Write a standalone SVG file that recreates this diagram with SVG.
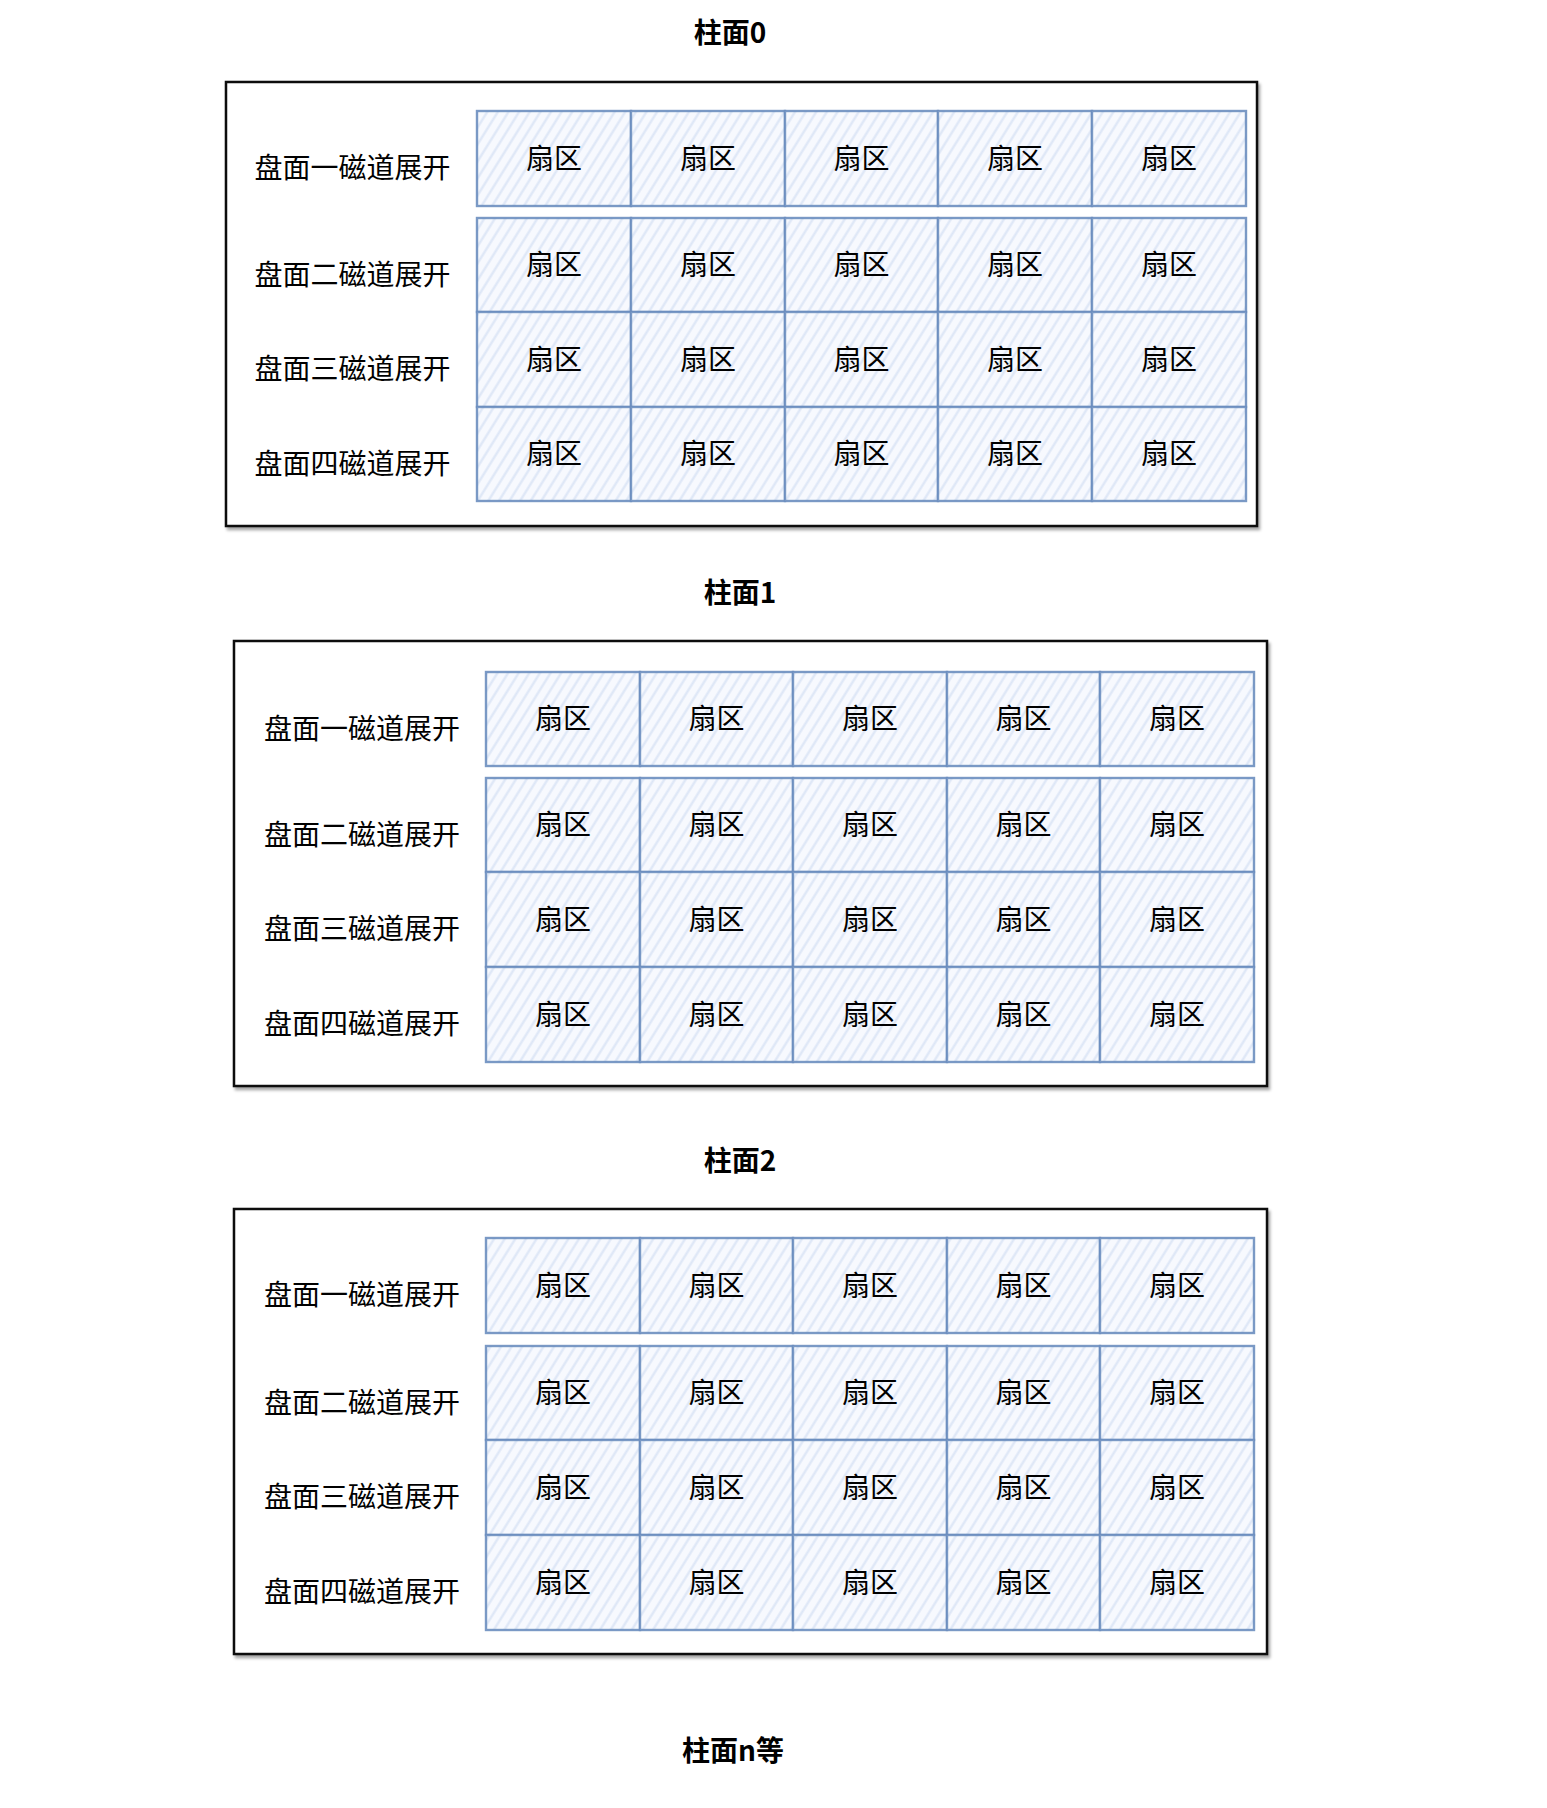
<svg xmlns="http://www.w3.org/2000/svg" width="1547" height="1808" viewBox="0 0 1547 1808">
<style>
.t{font-family:"Noto Sans CJK SC","Noto Sans",sans-serif;font-size:28px;fill:#000;text-anchor:middle;dominant-baseline:central}
.title{font-weight:bold}
.box{fill:#fff;stroke:#111;stroke-width:2.5;filter:url(#sh)}
.cell rect{fill:url(#hatch);stroke:#6c8ebf;stroke-width:2.4;stroke-opacity:0.9}
</style>
<defs>
<pattern id="hatch" patternUnits="userSpaceOnUse" width="9" height="9" patternTransform="rotate(32)">
<rect width="9" height="9" fill="#f7f9fe"/>
<line x1="4.5" y1="0" x2="4.5" y2="9" stroke="#dce6f6" stroke-width="2.2"/>
</pattern>
<filter id="sh" x="-5%" y="-5%" width="110%" height="110%">
<feDropShadow dx="2" dy="3" stdDeviation="1.5" flood-color="#000" flood-opacity="0.35"/>
</filter>
</defs>
<rect width="1547" height="1808" fill="#fff"/>

<g id="title0"><text class="t title" x="730" y="31">柱面0</text></g>
<g id="title1"><text class="t title" x="740" y="591">柱面1</text></g>
<g id="title2"><text class="t title" x="740" y="1159">柱面2</text></g>
<g id="titleN"><text class="t title" x="733" y="1749">柱面n等</text></g>

<g id="panel0"><rect class="box" x="226" y="82" width="1031" height="444"/></g>
<g id="panel1"><rect class="box" x="234" y="641" width="1033" height="445"/></g>
<g id="panel2"><rect class="box" x="234" y="1209" width="1033" height="445"/></g>

<g id="p0-labels">
<g id="p0-l1"><text class="t" x="352.5" y="165.5">盘面一磁道展开</text></g>
<g id="p0-l2"><text class="t" x="352.5" y="272.5">盘面二磁道展开</text></g>
<g id="p0-l3"><text class="t" x="352.5" y="367">盘面三磁道展开</text></g>
<g id="p0-l4"><text class="t" x="352.5" y="461.5">盘面四磁道展开</text></g>
</g>
<g id="p1-labels">
<g id="p1-l1"><text class="t" x="362" y="726.5">盘面一磁道展开</text></g>
<g id="p1-l2"><text class="t" x="362" y="832.5">盘面二磁道展开</text></g>
<g id="p1-l3"><text class="t" x="362" y="927">盘面三磁道展开</text></g>
<g id="p1-l4"><text class="t" x="362" y="1022">盘面四磁道展开</text></g>
</g>
<g id="p2-labels">
<g id="p2-l1"><text class="t" x="362" y="1293">盘面一磁道展开</text></g>
<g id="p2-l2"><text class="t" x="362" y="1400.5">盘面二磁道展开</text></g>
<g id="p2-l3"><text class="t" x="362" y="1495">盘面三磁道展开</text></g>
<g id="p2-l4"><text class="t" x="362" y="1590">盘面四磁道展开</text></g>
</g>

<g id="p0-cells">
<g id="p0-r1-c1" class="cell"><rect x="477" y="111" width="154" height="95"/><text class="t" x="554" y="156.5">扇区</text></g>
<g id="p0-r1-c2" class="cell"><rect x="631" y="111" width="154" height="95"/><text class="t" x="708" y="156.5">扇区</text></g>
<g id="p0-r1-c3" class="cell"><rect x="785" y="111" width="153" height="95"/><text class="t" x="861.5" y="156.5">扇区</text></g>
<g id="p0-r1-c4" class="cell"><rect x="938" y="111" width="154" height="95"/><text class="t" x="1015" y="156.5">扇区</text></g>
<g id="p0-r1-c5" class="cell"><rect x="1092" y="111" width="154" height="95"/><text class="t" x="1169" y="156.5">扇区</text></g>
<g id="p0-r2-c1" class="cell"><rect x="477" y="218" width="154" height="94"/><text class="t" x="554" y="263">扇区</text></g>
<g id="p0-r2-c2" class="cell"><rect x="631" y="218" width="154" height="94"/><text class="t" x="708" y="263">扇区</text></g>
<g id="p0-r2-c3" class="cell"><rect x="785" y="218" width="153" height="94"/><text class="t" x="861.5" y="263">扇区</text></g>
<g id="p0-r2-c4" class="cell"><rect x="938" y="218" width="154" height="94"/><text class="t" x="1015" y="263">扇区</text></g>
<g id="p0-r2-c5" class="cell"><rect x="1092" y="218" width="154" height="94"/><text class="t" x="1169" y="263">扇区</text></g>
<g id="p0-r3-c1" class="cell"><rect x="477" y="312" width="154" height="95"/><text class="t" x="554" y="357.5">扇区</text></g>
<g id="p0-r3-c2" class="cell"><rect x="631" y="312" width="154" height="95"/><text class="t" x="708" y="357.5">扇区</text></g>
<g id="p0-r3-c3" class="cell"><rect x="785" y="312" width="153" height="95"/><text class="t" x="861.5" y="357.5">扇区</text></g>
<g id="p0-r3-c4" class="cell"><rect x="938" y="312" width="154" height="95"/><text class="t" x="1015" y="357.5">扇区</text></g>
<g id="p0-r3-c5" class="cell"><rect x="1092" y="312" width="154" height="95"/><text class="t" x="1169" y="357.5">扇区</text></g>
<g id="p0-r4-c1" class="cell"><rect x="477" y="407" width="154" height="94"/><text class="t" x="554" y="452">扇区</text></g>
<g id="p0-r4-c2" class="cell"><rect x="631" y="407" width="154" height="94"/><text class="t" x="708" y="452">扇区</text></g>
<g id="p0-r4-c3" class="cell"><rect x="785" y="407" width="153" height="94"/><text class="t" x="861.5" y="452">扇区</text></g>
<g id="p0-r4-c4" class="cell"><rect x="938" y="407" width="154" height="94"/><text class="t" x="1015" y="452">扇区</text></g>
<g id="p0-r4-c5" class="cell"><rect x="1092" y="407" width="154" height="94"/><text class="t" x="1169" y="452">扇区</text></g>
</g>

<g id="p1-cells">
<g id="p1-r1-c1" class="cell"><rect x="486" y="672" width="154" height="94"/><text class="t" x="563" y="717">扇区</text></g>
<g id="p1-r1-c2" class="cell"><rect x="640" y="672" width="153" height="94"/><text class="t" x="716.5" y="717">扇区</text></g>
<g id="p1-r1-c3" class="cell"><rect x="793" y="672" width="154" height="94"/><text class="t" x="870" y="717">扇区</text></g>
<g id="p1-r1-c4" class="cell"><rect x="947" y="672" width="153" height="94"/><text class="t" x="1023.5" y="717">扇区</text></g>
<g id="p1-r1-c5" class="cell"><rect x="1100" y="672" width="154" height="94"/><text class="t" x="1177" y="717">扇区</text></g>
<g id="p1-r2-c1" class="cell"><rect x="486" y="778" width="154" height="94"/><text class="t" x="563" y="823">扇区</text></g>
<g id="p1-r2-c2" class="cell"><rect x="640" y="778" width="153" height="94"/><text class="t" x="716.5" y="823">扇区</text></g>
<g id="p1-r2-c3" class="cell"><rect x="793" y="778" width="154" height="94"/><text class="t" x="870" y="823">扇区</text></g>
<g id="p1-r2-c4" class="cell"><rect x="947" y="778" width="153" height="94"/><text class="t" x="1023.5" y="823">扇区</text></g>
<g id="p1-r2-c5" class="cell"><rect x="1100" y="778" width="154" height="94"/><text class="t" x="1177" y="823">扇区</text></g>
<g id="p1-r3-c1" class="cell"><rect x="486" y="872" width="154" height="95"/><text class="t" x="563" y="917.5">扇区</text></g>
<g id="p1-r3-c2" class="cell"><rect x="640" y="872" width="153" height="95"/><text class="t" x="716.5" y="917.5">扇区</text></g>
<g id="p1-r3-c3" class="cell"><rect x="793" y="872" width="154" height="95"/><text class="t" x="870" y="917.5">扇区</text></g>
<g id="p1-r3-c4" class="cell"><rect x="947" y="872" width="153" height="95"/><text class="t" x="1023.5" y="917.5">扇区</text></g>
<g id="p1-r3-c5" class="cell"><rect x="1100" y="872" width="154" height="95"/><text class="t" x="1177" y="917.5">扇区</text></g>
<g id="p1-r4-c1" class="cell"><rect x="486" y="967" width="154" height="95"/><text class="t" x="563" y="1012.5">扇区</text></g>
<g id="p1-r4-c2" class="cell"><rect x="640" y="967" width="153" height="95"/><text class="t" x="716.5" y="1012.5">扇区</text></g>
<g id="p1-r4-c3" class="cell"><rect x="793" y="967" width="154" height="95"/><text class="t" x="870" y="1012.5">扇区</text></g>
<g id="p1-r4-c4" class="cell"><rect x="947" y="967" width="153" height="95"/><text class="t" x="1023.5" y="1012.5">扇区</text></g>
<g id="p1-r4-c5" class="cell"><rect x="1100" y="967" width="154" height="95"/><text class="t" x="1177" y="1012.5">扇区</text></g>
</g>

<g id="p2-cells">
<g id="p2-r1-c1" class="cell"><rect x="486" y="1238" width="154" height="95"/><text class="t" x="563" y="1283.5">扇区</text></g>
<g id="p2-r1-c2" class="cell"><rect x="640" y="1238" width="153" height="95"/><text class="t" x="716.5" y="1283.5">扇区</text></g>
<g id="p2-r1-c3" class="cell"><rect x="793" y="1238" width="154" height="95"/><text class="t" x="870" y="1283.5">扇区</text></g>
<g id="p2-r1-c4" class="cell"><rect x="947" y="1238" width="153" height="95"/><text class="t" x="1023.5" y="1283.5">扇区</text></g>
<g id="p2-r1-c5" class="cell"><rect x="1100" y="1238" width="154" height="95"/><text class="t" x="1177" y="1283.5">扇区</text></g>
<g id="p2-r2-c1" class="cell"><rect x="486" y="1346" width="154" height="94"/><text class="t" x="563" y="1391">扇区</text></g>
<g id="p2-r2-c2" class="cell"><rect x="640" y="1346" width="153" height="94"/><text class="t" x="716.5" y="1391">扇区</text></g>
<g id="p2-r2-c3" class="cell"><rect x="793" y="1346" width="154" height="94"/><text class="t" x="870" y="1391">扇区</text></g>
<g id="p2-r2-c4" class="cell"><rect x="947" y="1346" width="153" height="94"/><text class="t" x="1023.5" y="1391">扇区</text></g>
<g id="p2-r2-c5" class="cell"><rect x="1100" y="1346" width="154" height="94"/><text class="t" x="1177" y="1391">扇区</text></g>
<g id="p2-r3-c1" class="cell"><rect x="486" y="1440" width="154" height="95"/><text class="t" x="563" y="1485.5">扇区</text></g>
<g id="p2-r3-c2" class="cell"><rect x="640" y="1440" width="153" height="95"/><text class="t" x="716.5" y="1485.5">扇区</text></g>
<g id="p2-r3-c3" class="cell"><rect x="793" y="1440" width="154" height="95"/><text class="t" x="870" y="1485.5">扇区</text></g>
<g id="p2-r3-c4" class="cell"><rect x="947" y="1440" width="153" height="95"/><text class="t" x="1023.5" y="1485.5">扇区</text></g>
<g id="p2-r3-c5" class="cell"><rect x="1100" y="1440" width="154" height="95"/><text class="t" x="1177" y="1485.5">扇区</text></g>
<g id="p2-r4-c1" class="cell"><rect x="486" y="1535" width="154" height="95"/><text class="t" x="563" y="1580.5">扇区</text></g>
<g id="p2-r4-c2" class="cell"><rect x="640" y="1535" width="153" height="95"/><text class="t" x="716.5" y="1580.5">扇区</text></g>
<g id="p2-r4-c3" class="cell"><rect x="793" y="1535" width="154" height="95"/><text class="t" x="870" y="1580.5">扇区</text></g>
<g id="p2-r4-c4" class="cell"><rect x="947" y="1535" width="153" height="95"/><text class="t" x="1023.5" y="1580.5">扇区</text></g>
<g id="p2-r4-c5" class="cell"><rect x="1100" y="1535" width="154" height="95"/><text class="t" x="1177" y="1580.5">扇区</text></g>
</g>

<g id="connectors"/>
</svg>
